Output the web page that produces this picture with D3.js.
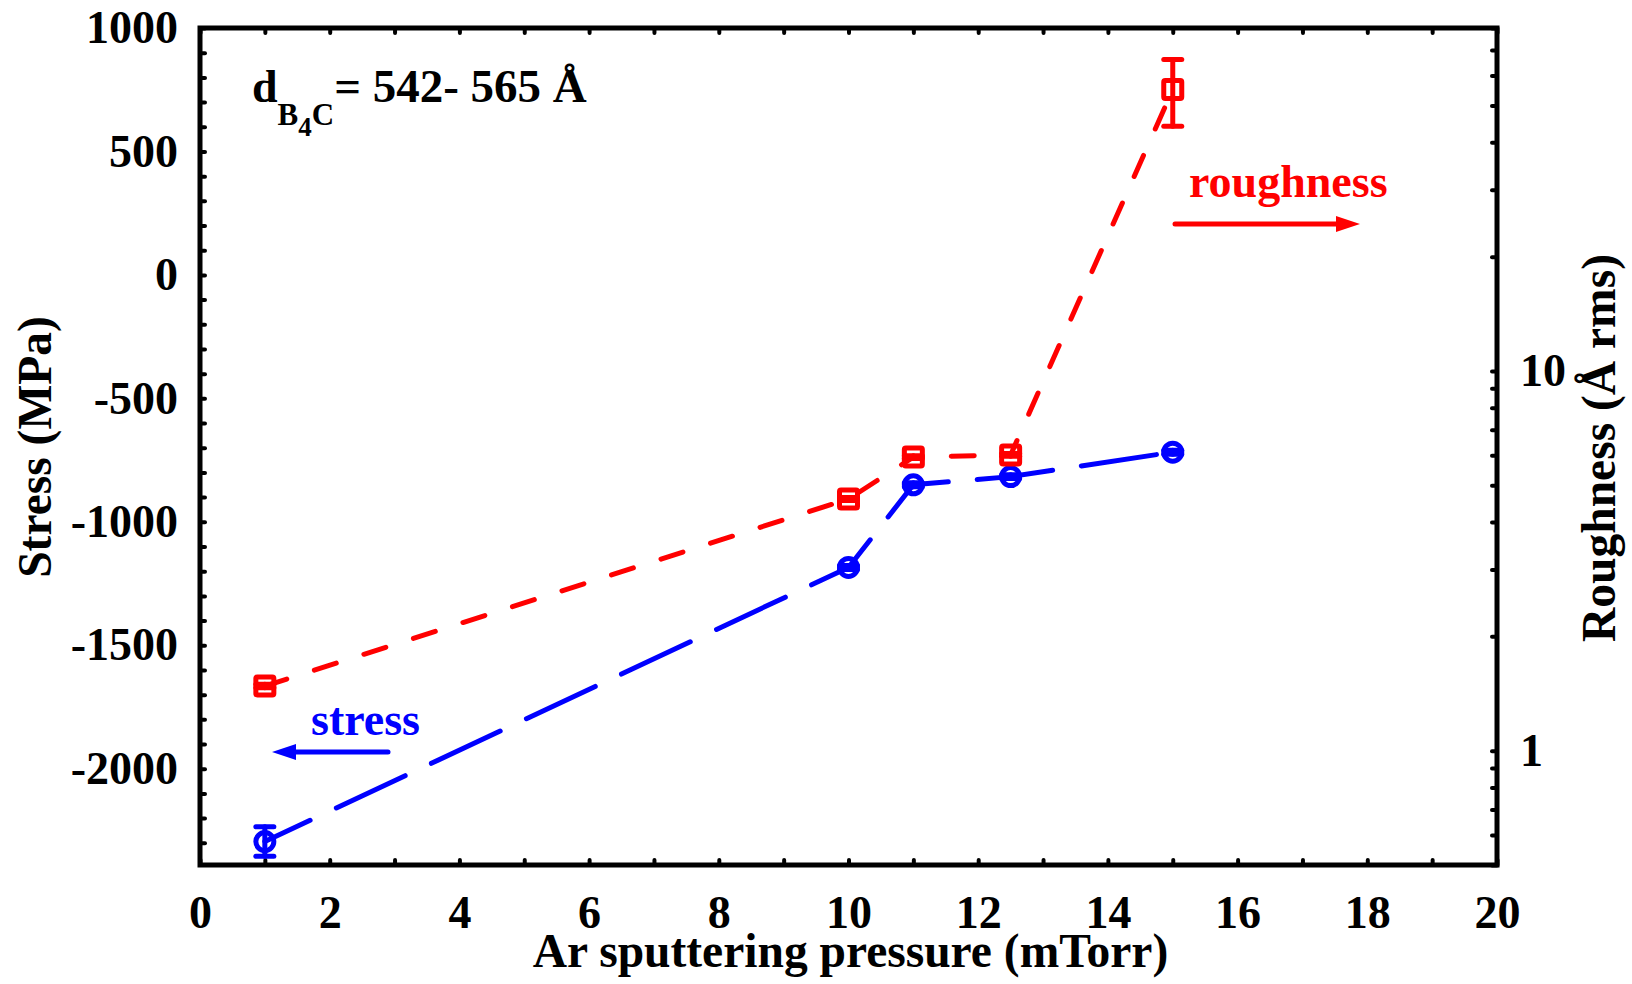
<!DOCTYPE html>
<html>
<head>
<meta charset="utf-8">
<script src="https://cdn.jsdelivr.net/npm/d3@7"></script>
<style>
  html, body { margin: 0; padding: 0; background: #fff; }
  svg { display: block; }
  text { font-family: "Liberation Serif", "Times New Roman", serif; font-weight: bold; }
</style>
</head>
<body>
<script>
// ---- data ----
const pressure = [1, 10, 11, 12.5, 15];            // mTorr
const stress = [-2295, -1185, -850, -817, -718];   // MPa
const stressErr = [60, 8, 8, 8, 8];
const roughness = [1.48, 4.60, 5.93, 6.01, 55.1];  // Å rms
const roughnessErr = [0.015, 0.04, 0.05, 0.05, 11];

const xTickLabels = [0, 2, 4, 6, 8, 10, 12, 14, 16, 18, 20];
const stressTickLabels = [1000, 500, 0, -500, -1000, -1500, -2000];
const roughTickLabels = [1, 10];
const roughMinorTicks = [0.5, 0.6, 0.7, 0.8, 0.9, 1, 2, 3, 4, 5, 6, 7, 8, 9, 10, 20, 30, 40, 50, 60, 70, 80];

const BLUE = "#0000ff", RED = "#ff0000";
const W = 1632, H = 984;
const L = 200, R = 1497, T = 28, B = 865;

const svg = d3.select("body").append("svg").attr("width", W).attr("height", H);

const x = d3.scaleLinear().domain([0, 20]).range([L, R]);
const yL = d3.scaleLinear().domain([-2390, 1000]).range([B, T]);
const yR = d3.scaleLog().domain([0.5, 80]).range([B, T]);

const FS = 46, TFS = 47.5;

function styleAxis(g) {
  g.select(".domain").remove();
  g.selectAll(".tick line").attr("stroke", "#000").attr("stroke-width", 4).attr("stroke-linecap", "round");
  g.selectAll(".tick text").filter(function () { return this.textContent === ""; }).remove();
  g.selectAll(".tick text").attr("font-size", FS).attr("fill", "#000")
    .attr("font-family", "'Liberation Serif', 'Times New Roman', serif").attr("font-weight", "bold");
}

const TK = -5;
// bottom
svg.append("g").attr("transform", `translate(0,${B})`)
  .call(d3.axisBottom(x).tickValues(d3.range(0, 21)).tickSizeInner(TK).tickSizeOuter(0).tickPadding(30)
    .tickFormat(d => xTickLabels.includes(d) ? String(d) : ""))
  .call(styleAxis);
// top
svg.append("g").attr("transform", `translate(0,${T})`)
  .call(d3.axisTop(x).tickValues(d3.range(0, 21)).tickSizeInner(TK).tickSizeOuter(0).tickFormat(""))
  .call(styleAxis);
// left
svg.append("g").attr("transform", `translate(${L},0)`)
  .call(d3.axisLeft(yL).tickValues(d3.range(-2300, 1001, 100)).tickSizeInner(TK).tickSizeOuter(0).tickPadding(22)
    .tickFormat(d => stressTickLabels.includes(d) ? String(d) : ""))
  .call(styleAxis);
// right
svg.append("g").attr("transform", `translate(${R},0)`)
  .call(d3.axisRight(yR).tickValues(roughMinorTicks).tickSizeInner(TK).tickSizeOuter(0).tickPadding(23)
    .tickFormat(d => roughTickLabels.includes(d) ? String(d) : ""))
  .call(styleAxis);

// frame
svg.append("rect").attr("x", L).attr("y", T).attr("width", R - L).attr("height", B - T)
  .attr("fill", "none").attr("stroke", "#000").attr("stroke-width", 5);

const idx = d3.range(pressure.length);

// stress series
const stressLine = d3.line().x(i => x(pressure[i])).y(i => yL(stress[i]));
svg.append("path").attr("d", stressLine(idx)).attr("fill", "none").attr("stroke", BLUE)
  .attr("stroke-width", 5).attr("stroke-linecap", "round")
  .attr("stroke-dasharray", "76,29").attr("stroke-dashoffset", 26);

// roughness series
const roughLine = d3.line().x(i => x(pressure[i])).y(i => yR(roughness[i]));
svg.append("path").attr("d", roughLine(idx)).attr("fill", "none").attr("stroke", RED)
  .attr("stroke-width", 5).attr("stroke-linecap", "round")
  .attr("stroke-dasharray", "23,29");

function errorBars(color, xs, ys, es, yScale) {
  const g = svg.append("g").attr("stroke", color).attr("stroke-width", 5).attr("stroke-linecap", "round");
  idx.forEach(i => {
    const cx = x(xs[i]);
    const y1 = yScale(ys[i] - es[i]), y2 = yScale(ys[i] + es[i]);
    g.append("line").attr("x1", cx).attr("x2", cx).attr("y1", y1).attr("y2", y2);
    g.append("line").attr("x1", cx - 9).attr("x2", cx + 9).attr("y1", y1).attr("y2", y1);
    g.append("line").attr("x1", cx - 9).attr("x2", cx + 9).attr("y1", y2).attr("y2", y2);
  });
}
errorBars(BLUE, pressure, stress, stressErr, yL);
errorBars(RED, pressure, roughness, roughnessErr, yR);

// markers
svg.append("g").selectAll("circle").data(idx).join("circle")
  .attr("cx", i => x(pressure[i])).attr("cy", i => yL(stress[i])).attr("r", 9)
  .attr("fill", "none").attr("stroke", BLUE).attr("stroke-width", 5);
svg.append("g").selectAll("rect").data(idx).join("rect")
  .attr("x", i => x(pressure[i]) - 9).attr("y", i => yR(roughness[i]) - 9)
  .attr("width", 18).attr("height", 18).attr("rx", 1.5)
  .attr("fill", "none").attr("stroke", RED).attr("stroke-width", 5);

// axis titles
svg.append("text").attr("x", (L + R) / 2 + 2).attr("y", 967).attr("text-anchor", "middle")
  .attr("font-size", TFS).text("Ar sputtering pressure (mTorr)");
svg.append("text").attr("transform", "translate(51,447) rotate(-90)").attr("text-anchor", "middle")
  .attr("font-size", TFS).text("Stress (MPa)");
svg.append("text").attr("transform", "translate(1615,448) rotate(-90)").attr("text-anchor", "middle")
  .attr("font-size", TFS).text("Roughness (Å rms)");

// thickness annotation
const ann = svg.append("text").attr("x", 252).attr("y", 102).attr("font-size", FS);
ann.append("tspan").text("d");
ann.append("tspan").attr("font-size", 31).attr("dy", 23).text("B");
ann.append("tspan").attr("font-size", 27).attr("dy", 11).text("4");
ann.append("tspan").attr("font-size", 31).attr("dy", -11).text("C");
ann.append("tspan").attr("font-size", 47).attr("dy", -23).text("= 542- 565 Å");

// series labels with arrows
function arrow(color, x1, x2, yy) {
  const dir = Math.sign(x2 - x1);
  svg.append("line").attr("x1", x1).attr("x2", x2 - dir * 18).attr("y1", yy).attr("y2", yy)
    .attr("stroke", color).attr("stroke-width", 5).attr("stroke-linecap", "round");
  svg.append("path")
    .attr("d", `M${x2},${yy} L${x2 - dir * 24},${yy - 8} L${x2 - dir * 24},${yy + 8} Z`)
    .attr("fill", color);
}
svg.append("text").attr("x", 311).attr("y", 735).attr("font-size", FS).attr("fill", BLUE).text("stress");
arrow(BLUE, 388, 272, 752);
svg.append("text").attr("x", 1189).attr("y", 197).attr("font-size", FS).attr("fill", RED).text("roughness");
arrow(RED, 1175, 1360, 224);
</script>
</body>
</html>
